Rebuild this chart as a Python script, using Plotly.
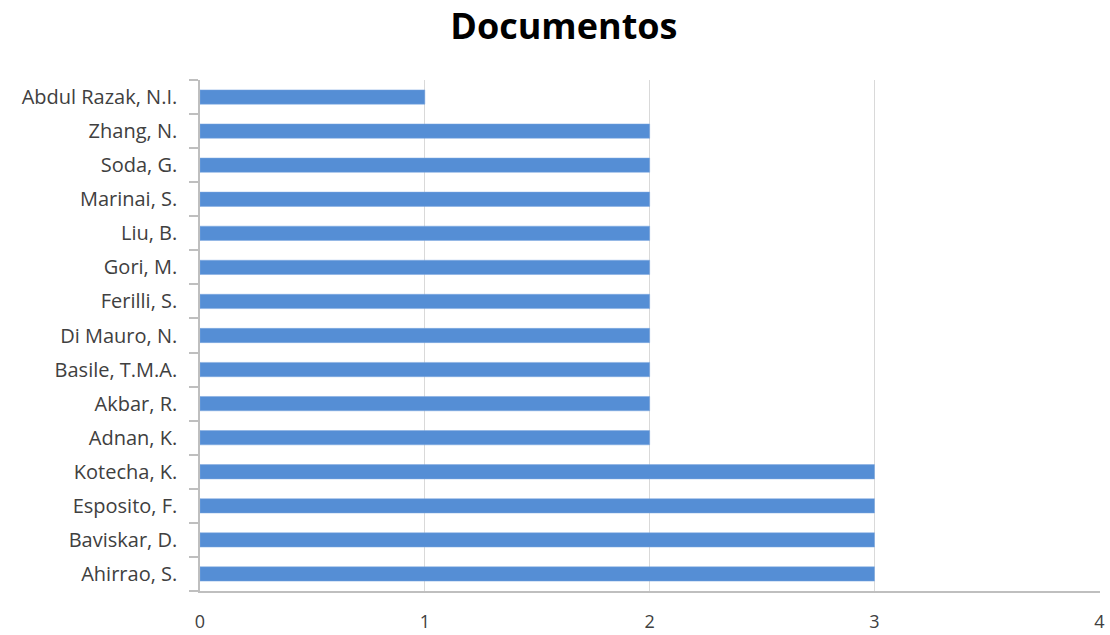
import plotly.graph_objects as go

authors = ["Ahirrao, S.", "Baviskar, D.", "Esposito, F.", "Kotecha, K.", "Adnan, K.",
           "Akbar, R.", "Basile, T.M.A.", "Di Mauro, N.", "Ferilli, S.", "Gori, M.",
           "Liu, B.", "Marinai, S.", "Soda, G.", "Zhang, N.", "Abdul Razak, N.I."]
documentos = [3, 3, 3, 3, 2, 2, 2, 2, 2, 2, 2, 2, 2, 2, 1]
x_ticks = [0, 1, 2, 3, 4]

fig = go.Figure(go.Bar(
    x=documentos, y=authors, orientation="h",
    marker=dict(color="#558ED5", line=dict(color="#7FA9E0", width=0.5)),
))

font_family = "'Open Sans', Lato, sans-serif"
fig.update_layout(
    width=1110, height=635,
    margin=dict(l=200, r=10, t=80, b=44, autoexpand=False),
    paper_bgcolor="white", plot_bgcolor="white",
    title=dict(text="<b>Documentos</b>", x=0.508, xanchor="center", y=0.958, yanchor="middle",
               font=dict(family=font_family, size=36, color="#000000")),
    bargap=0.58,
    showlegend=False,
    xaxis=dict(range=[0, 4.003], tickvals=x_ticks, showgrid=True, gridcolor="#D9D9D9", gridwidth=1,
               zeroline=False, showline=True, linecolor="#BFBFBF", linewidth=1.5,
               ticks="", ticklabelstandoff=14, automargin=False,
               tickfont=dict(family=font_family, size=18, color="#404040")),
    yaxis=dict(categoryorder="array", categoryarray=authors, automargin=False,
               showgrid=False, zeroline=False, showline=True, linecolor="#BFBFBF", linewidth=1.5,
               ticks="outside", tickson="boundaries", ticklen=9, tickcolor="#BFBFBF", tickwidth=1.5,
               ticklabelstandoff=17,
               tickfont=dict(family=font_family, size=20, color="#404040")),
)

fig.write_html("out.html")
